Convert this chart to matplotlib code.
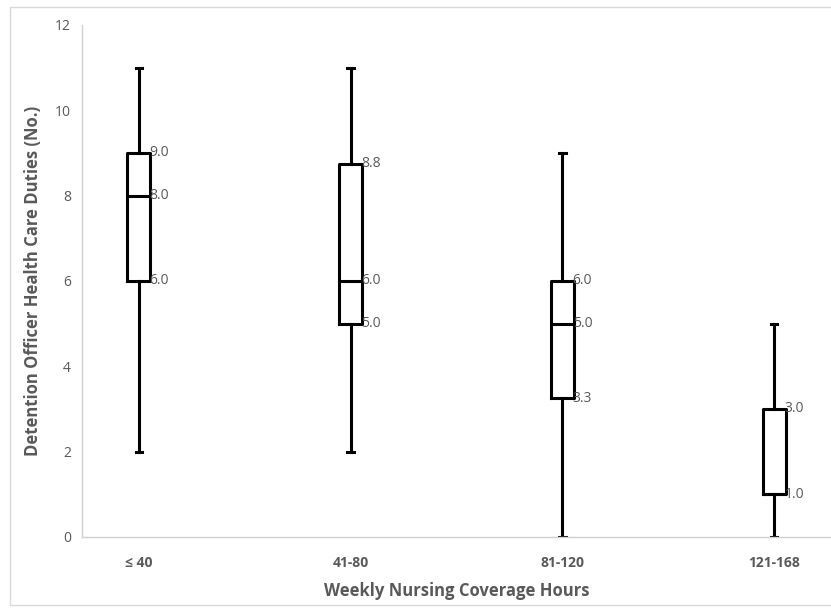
import matplotlib.pyplot as plt
from matplotlib.patches import Rectangle

## data
categories = ['≤ 40', '41-80', '81-120', '121-168']
whisker_low = [2.0, 2.0, 0.0, 0.0]
q1 = [6.0, 5.0, 3.25, 1.0]
median = [8.0, 6.0, 5.0, 1.0]
q3 = [9.0, 8.75, 6.0, 3.0]
whisker_high = [11.0, 11.0, 9.0, 5.0]
labels = [['9.0', '8.0', '6.0'], ['8.8', '6.0', '5.0'],
          ['6.0', '5.0', '3.3'], ['3.0', '1.0']]
label_vals = [[9.0, 8.0, 6.0], [8.75, 6.0, 5.0],
              [6.0, 5.0, 3.25], [3.0, 1.0]]

plt.rcParams['font.family'] = ['Open Sans', 'DejaVu Sans']
grey = '#595959'

fig = plt.figure(figsize=(8.31, 6.09), dpi=100)
ax = fig.add_axes([82/831, 1-537/609, 1-82/831, (537-25)/609])

stats = []
for i in range(len(categories)):
    stats.append(dict(med=median[i], q1=q1[i], q3=q3[i],
                      whislo=whisker_low[i], whishi=whisker_high[i], fliers=[]))

pos = list(range(1, len(categories) + 1))
lw = 2.2
width = 0.108
ax.bxp(stats, positions=pos, widths=width, showfliers=False,
       boxprops=dict(color='black', linewidth=lw),
       medianprops=dict(color='black', linewidth=lw),
       whiskerprops=dict(color='black', linewidth=lw),
       capprops=dict(color='black', linewidth=lw), capwidths=0.03)

for i, p in enumerate(pos):
    for txt, v in zip(labels[i], label_vals[i]):
        ax.text(p + width/2 - 0.005, v, txt, color=grey, fontsize=10,
                va='center', ha='left')

ax.set_xlim(1 - 57/212, 4 + 57/212)
ax.set_ylim(0, 12)
ax.set_yticks(range(0, 13, 2))
ax.set_xticks(pos)
ax.set_xticklabels(categories, fontweight='bold')
ax.tick_params(length=0, colors=grey, labelsize=10)
ax.tick_params(axis='x', pad=14)
ax.tick_params(axis='y', pad=8)
for s in ['top', 'right']:
    ax.spines[s].set_visible(False)
for s in ['left', 'bottom']:
    ax.spines[s].set_color('#d0d0d0')
    ax.spines[s].set_linewidth(1.0)

ax.set_ylabel('Detention Officer Health Care Duties (No.)', fontsize=12,
              fontweight='bold', color=grey)
ax.set_xlabel('Weekly Nursing Coverage Hours', fontsize=12,
              fontweight='bold', color=grey)
ax.yaxis.set_label_coords(-(82 - 33) / 749, 0.5)
ax.xaxis.set_label_coords(0.5, -(591 - 537) / 512)
ax.xaxis.label.set_va('center')
ax.yaxis.label.set_va('center')

fig.patches.append(Rectangle((10/831, 4/609), 1.0, 1 - 11/609,
                             transform=fig.transFigure, fill=False,
                             edgecolor='#d9d9d9', linewidth=1))

fig.savefig('out.png', dpi=100)
